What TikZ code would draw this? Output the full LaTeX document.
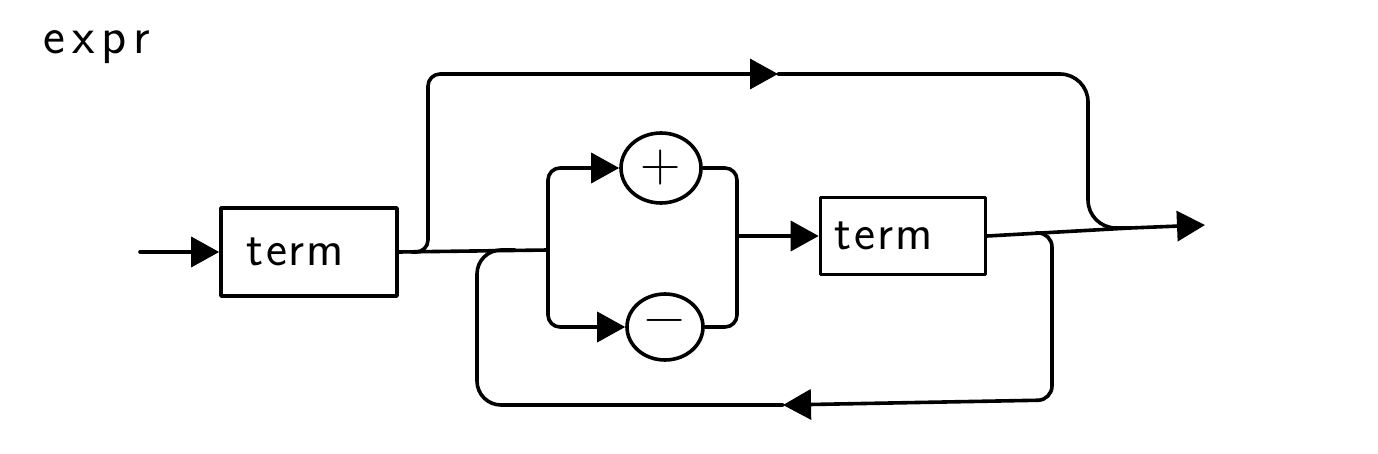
\documentclass[tikz,border=0pt]{standalone}
\usepackage{fontspec}
\usetikzlibrary{arrows.meta, shapes.geometric}

\newcommand{\railfont}{\sffamily\fontsize{50}{54}\selectfont}
\newcommand{\titlefont}{\sffamily\fontsize{52}{56}\selectfont}

\tikzset{
  rail/.style={line width=3.6pt, line join=round, line cap=round},
  termbox/.style={draw, rail, rectangle, inner sep=0pt, font=\railfont},
  opcircle/.style={draw, rail, ellipse, inner sep=0pt, minimum width=80pt, minimum height=70pt, font=\rmfamily\fontsize{56}{56}\selectfont},
}

\begin{document}
\begin{tikzpicture}[x=1pt, y=-1pt, rail, >={Triangle[length=28pt, width=30pt]}]
      \useasboundingbox (0,0) rectangle (1378,454);
      \node[anchor=base west, inner sep=0pt, font=\titlefont] (title) at (42,54) {e\kern7pt x\kern7pt p\kern6pt r};
      % boxes and circles
      \node[termbox, minimum width=176pt, minimum height=88pt, text width=150pt, align=left] (t1) at (309,252) {\kern12pt t\kern3pt e\kern2pt r\kern2pt m};
      \node[termbox, minimum width=165pt, minimum height=77pt, text width=145pt, align=left] (t2) at (903,236) {\kern4pt t\kern3pt e\kern2pt r\kern2pt m};
      \node[opcircle] (plus) at (661,168) {+};
      \node[opcircle, minimum width=76pt, minimum height=66pt] (minus) at (665,327) {−};
      % junction points
      \coordinate (in) at (140,252);
      \coordinate (split) at (548,250);
      \coordinate (merge) at (737,236);
      \coordinate (join) at (1130,228);
      \coordinate (out) at (1205,225);
      \coordinate (byin) at (412,252);
      \coordinate (byarr) at (778,74);
      \coordinate (loopin) at (1036,233);
      \coordinate (looparr) at (783,405);
      \coordinate (loopout) at (515,250);
      % main line
      \draw[->] (in) -- (t1.west);
      \draw (t1.east) -- (split);
      \draw[->] (merge) -- (t2.west);
      \draw (t2.east) -- (join);
      \draw[->] (join) -- (out);
      % plus and minus branches
      \draw[->, rounded corners=12pt] (split) |- (plus.west);
      \draw[->, rounded corners=12pt] (split) |- (minus.west);
      \draw[rounded corners=12pt] (plus.east) -| (merge);
      \draw[rounded corners=12pt] (minus.east) -| (merge);
      % bypass above
      \draw[->, rounded corners=12pt] (byin) -| (428,74) -- (byarr);
      \draw[rounded corners=28pt] (byarr) -| (1088,228) -- (join);
      % loop below
      \draw[->, rounded corners=14pt] (loopin) -| (1052,400) -- (looparr);
      \draw[rounded corners=24pt] (looparr) -| (477,250) -- (loopout);
    \end{tikzpicture}
\end{document}
